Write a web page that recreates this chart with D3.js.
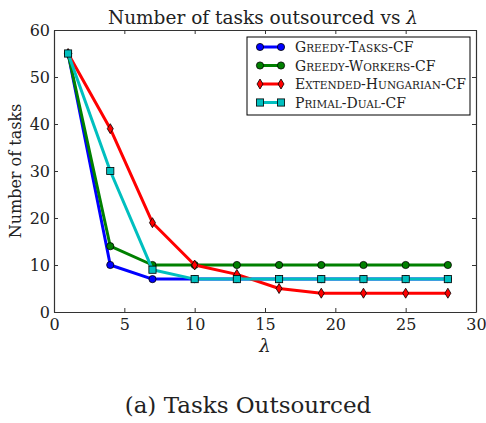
<!DOCTYPE html>
<html>
<head>
<meta charset="utf-8">
<script src="https://cdn.jsdelivr.net/npm/d3@7"></script>
<style>
  html, body { margin: 0; padding: 0; background: #fff; }
  svg text { font-family: "DejaVu Serif", serif; fill: #222; }
</style>
</head>
<body>
<svg id="chart" width="486" height="423"></svg>
<script>
// λ values on the x axis
const lambdas = [1, 4, 7, 10, 13, 16, 19, 22, 25, 28];

// number of tasks outsourced per algorithm
const greedyTasks    = [55, 10, 7, 7, 7, 7, 7, 7, 7, 7];
const greedyWorkers  = [55, 14, 10, 10, 10, 10, 10, 10, 10, 10];
const extHungarian   = [55, 39, 19, 10, 8, 5, 4, 4, 4, 4];
const primalDual     = [55, 30, 9, 7, 7, 7, 7, 7, 7, 7];

const seriesNames = ["Greedy-Tasks-CF", "Greedy-Workers-CF", "Extended-Hungarian-CF", "Primal-Dual-CF"];
const xTicks = [0, 5, 10, 15, 20, 25, 30];
const yTicks = [0, 10, 20, 30, 40, 50, 60];

const series = [
  { name: seriesNames[0], values: greedyTasks,   color: "#0000ff", marker: "circle" },
  { name: seriesNames[1], values: greedyWorkers, color: "#008000", marker: "circle" },
  { name: seriesNames[2], values: extHungarian,  color: "#ff0000", marker: "diamond" },
  { name: seriesNames[3], values: primalDual,    color: "#00bfbf", marker: "square" }
];

const svg = d3.select("#chart");
const m = { left: 54, right: 476, top: 30, bottom: 312 };

const x = d3.scaleLinear().domain([0, 30]).range([m.left, m.right]);
const y = d3.scaleLinear().domain([0, 60]).range([m.bottom, m.top]);

// axes with inward ticks on all four sides
const axisColor = "#333";
const tickLen = 4;
const axBottom = svg.append("g").attr("transform", `translate(0,${m.bottom})`)
  .call(d3.axisBottom(x).tickValues(xTicks).tickSizeInner(-tickLen).tickSizeOuter(0).tickPadding(6));
const axTop = svg.append("g").attr("transform", `translate(0,${m.top})`)
  .call(d3.axisTop(x).tickValues(xTicks).tickSizeInner(-tickLen).tickSizeOuter(0).tickFormat(""));
const axLeft = svg.append("g").attr("transform", `translate(${m.left},0)`)
  .call(d3.axisLeft(y).tickValues(yTicks).tickSizeInner(-tickLen).tickSizeOuter(0).tickPadding(4));
const axRight = svg.append("g").attr("transform", `translate(${m.right},0)`)
  .call(d3.axisRight(y).tickValues(yTicks).tickSizeInner(-tickLen).tickSizeOuter(0).tickFormat(""));

[axBottom, axTop, axLeft, axRight].forEach(g => {
  g.select(".domain").attr("stroke", axisColor).attr("stroke-width", 1.2);
  g.selectAll(".tick line").attr("stroke", axisColor).attr("stroke-width", 1);
  g.selectAll(".tick text").attr("font-size", 16).attr("fill", "#333");
});
axBottom.selectAll(".tick text").attr("dy", "0.75em");
axLeft.selectAll(".tick text").attr("dy", "0.32em");

// titles and labels
svg.append("text").attr("x", 263).attr("y", 24).attr("text-anchor", "middle")
  .attr("font-size", 18.5).text("Number of tasks outsourced vs ")
  .append("tspan").attr("font-style", "italic").text("λ");
svg.append("text").attr("x", 265).attr("y", 352).attr("text-anchor", "middle")
  .attr("font-size", 18).attr("font-style", "italic").text("λ");
svg.append("text").attr("transform", "translate(21,171) rotate(-90)")
  .attr("text-anchor", "middle").attr("font-size", 16).text("Number of tasks");
svg.append("text").attr("x", 248).attr("y", 413).attr("text-anchor", "middle")
  .attr("font-size", 23).text("(a)  Tasks Outsourced");

// marker drawing helper
function drawMarker(g, type, cx, cy, color) {
  if (type === "circle") {
    g.append("circle").attr("cx", cx).attr("cy", cy).attr("r", 3.6)
      .attr("fill", color).attr("stroke", "#000").attr("stroke-width", 0.8);
  } else if (type === "diamond") {
    g.append("path").attr("d", `M${cx},${cy - 5}L${cx + 3},${cy}L${cx},${cy + 5}L${cx - 3},${cy}Z`)
      .attr("fill", color).attr("stroke", "#000").attr("stroke-width", 0.8);
  } else {
    g.append("rect").attr("x", cx - 3.6).attr("y", cy - 3.6).attr("width", 7.2).attr("height", 7.2)
      .attr("fill", color).attr("stroke", "#000").attr("stroke-width", 0.8);
  }
}

// small-caps text: lowercase runs become smaller capitals
function smallCaps(textSel, str, big, small) {
  const runs = [];
  for (const ch of str) {
    const lower = ch !== ch.toUpperCase();
    const last = runs[runs.length - 1];
    if (last && last.lower === lower) last.s += ch; else runs.push({ lower, s: ch });
  }
  runs.forEach(r => textSel.append("tspan")
    .attr("font-size", r.lower ? small : big)
    .text(r.s.toUpperCase()));
}

const line = d3.line().x(d => x(d[0])).y(d => y(d[1]));
const plot = svg.append("g");
series.forEach(s => {
  const pts = lambdas.map((l, i) => [l, s.values[i]]);
  plot.append("path").datum(pts).attr("d", line)
    .attr("fill", "none").attr("stroke", s.color).attr("stroke-width", 3)
    .attr("stroke-linejoin", "round");
  const mg = plot.append("g");
  pts.forEach(p => drawMarker(mg, s.marker, x(p[0]), y(p[1]), s.color));
});

// legend
const lg = svg.append("g");
lg.append("rect").attr("x", 247).attr("y", 37).attr("width", 223).attr("height", 78)
  .attr("fill", "#fff").attr("stroke", "#000").attr("stroke-width", 1);
series.forEach((s, i) => {
  const ly = 47 + i * 18.5;
  lg.append("line").attr("x1", 260).attr("x2", 281).attr("y1", ly).attr("y2", ly)
    .attr("stroke", s.color).attr("stroke-width", 3);
  drawMarker(lg, s.marker, 260, ly, s.color);
  drawMarker(lg, s.marker, 281, ly, s.color);
  const t = lg.append("text").attr("x", 295).attr("y", ly + 5);
  smallCaps(t, s.name, 14, 10.5);
});
</script>
</body>
</html>
